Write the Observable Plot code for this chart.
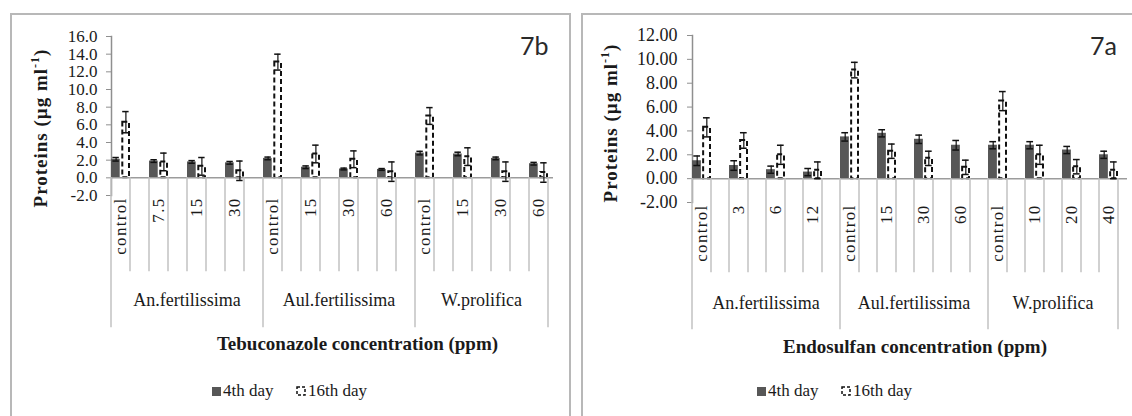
<!DOCTYPE html>
<html><head><meta charset="utf-8">
<script src="https://cdn.jsdelivr.net/npm/d3@7"></script>
<script src="https://cdn.jsdelivr.net/npm/@observablehq/plot@0.6"></script>
<style>
body{margin:0;background:#fff;width:1132px;height:416px;overflow:hidden;position:relative;}
.box{position:absolute;border:2px solid #b8b8b8;box-sizing:border-box;}
.panel{position:absolute;top:0;}
svg text{font-family:"Liberation Serif","Times New Roman",serif;}
svg text.tag{font-family:Lato,"Open Sans",sans-serif;}
</style></head><body>
<div class="box" style="left:10px;top:13px;width:561px;height:440px"></div>
<div class="box" style="left:581px;top:13px;width:600px;height:440px"></div>
<div id="left" class="panel" style="left:0px"></div>
<div id="right" class="panel" style="left:566px"></div>
<script>
// ---- data ----
const groups = ["An.fertilissima", "Aul.fertilissima", "W.prolifica"];
const days = ["4th day", "16th day"];

// 7b: Tebuconazole
const tebConc = [["control", "7.5", "15", "30"], ["control", "15", "30", "60"], ["control", "15", "30", "60"]];
const tebDay4 = [2.1, 1.9, 1.8, 1.7, 2.2, 1.2, 1.0, 0.95, 2.8, 2.7, 2.2, 1.6];
const tebDay4Err = [0.2, 0.15, 0.15, 0.15, 0.15, 0.15, 0.1, 0.1, 0.2, 0.2, 0.15, 0.15];
const tebDay16 = [6.3, 1.8, 1.3, 0.8, 13.1, 2.7, 2.1, 0.7, 7.0, 2.4, 0.7, 0.6];
const tebDay16Err = [1.2, 1.0, 1.0, 1.1, 0.9, 1.0, 0.95, 1.1, 0.95, 1.0, 1.1, 1.1];
const tebTicks = [-2, 0, 2, 4, 6, 8, 10, 12, 14, 16];

// 7a: Endosulfan
const endConc = [["control", "3", "6", "12"], ["control", "15", "30", "60"], ["control", "10", "20", "40"]];
const endDay4 = [1.5, 1.1, 0.75, 0.55, 3.5, 3.8, 3.3, 2.8, 2.8, 2.8, 2.4, 2.0];
const endDay4Err = [0.4, 0.4, 0.3, 0.3, 0.35, 0.3, 0.35, 0.4, 0.3, 0.3, 0.3, 0.3];
const endDay16 = [4.3, 3.2, 2.0, 0.7, 9.1, 2.3, 1.7, 0.95, 6.5, 2.0, 1.0, 0.7];
const endDay16Err = [0.8, 0.65, 0.8, 0.7, 0.65, 0.6, 0.6, 0.6, 0.8, 0.8, 0.6, 0.7];
const endTicks = [-2, 0, 2, 4, 6, 8, 10, 12];

function panel(o) {
  const rows4 = [], rows16 = [];
  groups.forEach((g, gi) => o.conc[gi].forEach((c, ci) => {
    const i = gi * 4 + ci, key = g + "|" + c;
    rows4.push({key, group: g, v: o.d4[i], e: o.e4[i]});
    rows16.push({key, group: g, v: o.d16[i], e: o.e16[i]});
  }));
  const keys = rows4.map(d => d.key);
  const pI = 0.49;
  const W = o.width - o.mL - o.mR;
  const step = W / (keys.length - pI);
  const bw = step * (1 - pI);
  const half = bw / 2;
  const cap = 7;
  const capInset = (bw - cap) / 2;
  const errMarks = (rows, dx) => [
    Plot.ruleX(rows, {x: "key", y1: d => d.v - d.e, y2: d => d.v + d.e, dx, stroke: "#111", strokeWidth: 1.2}),
    Plot.tickY(rows, {x: "key", y: d => d.v + d.e, dx, insetLeft: capInset, insetRight: capInset, stroke: "#111", strokeWidth: 1.5}),
    Plot.tickY(rows, {x: "key", y: d => d.v - d.e, dx, insetLeft: capInset, insetRight: capInset, stroke: "#111", strokeWidth: 1.5})
  ];
  const chart = Plot.plot({
    width: o.width, height: 416,
    marginLeft: o.mL, marginRight: o.mR, marginTop: o.mT, marginBottom: o.mB,
    style: {background: "transparent", overflow: "visible", color: "#1a1a1a"},
    x: {domain: keys, paddingInner: pI, paddingOuter: 0, align: 0},
    y: {domain: o.yDomain},
    marks: [
      Plot.frame({anchor: "left", stroke: "#8f8f8f", strokeWidth: 1.5}),
      Plot.axisY({ticks: o.ticks, tickFormat: o.fmt, tickSize: 5, tickPadding: o.tickPad, stroke: "#8f8f8f", fill: "#1a1a1a", label: null, fontSize: o.fs}),
      Plot.axisX({tickRotate: -90, tickSize: 0, tickPadding: 2, tickFormat: d => d.split("|")[1], label: null, fontSize: 17, fill: "#1a1a1a"}),
      Plot.barY(rows4, {x: "key", y: "v", fill: "#575757", insetRight: half + 0.5}),
      Plot.barY(rows16, {x: "key", y: "v", fill: "white", stroke: "#111", strokeWidth: 2, strokeDasharray: "5,3", insetLeft: half + 1.5, insetRight: 1}),
      Plot.ruleY([0], {stroke: "#9c9c9c", strokeWidth: 1.5}),
      ...errMarks(rows4, -half / 2),
      ...errMarks(rows16, half / 2)
    ]
  });
  const svg = d3.select(chart);
  svg.selectAll("g[aria-label='x-axis tick label'] text").style("letter-spacing", "1.3px");
  const x = chart.scale("x"), y = chart.scale("y");
  const y0 = y.apply(0);
  const deco = svg.append("g").attr("stroke", "#c2c2c2").attr("stroke-width", 1.5);
  const firsts = groups.map(g => keys.find(k => k.startsWith(g + "|")));
  keys.forEach((k, i) => {
    const a = x.apply(k), b = a + x.bandwidth;
    const longA = firsts.includes(k), longB = i === keys.length - 1;
    deco.append("line").attr("x1", a).attr("x2", a).attr("y1", y0).attr("y2", y0 + (longA ? o.longLen : o.shortLen));
    deco.append("line").attr("x1", b).attr("x2", b).attr("y1", y0).attr("y2", y0 + (longB ? o.longLen : o.shortLen));
  });
  const lastEnd = x.apply(keys[keys.length - 1]) + x.bandwidth;
  groups.forEach((g, gi) => {
    const s = x.apply(firsts[gi]);
    const e = gi < groups.length - 1 ? x.apply(firsts[gi + 1]) : lastEnd;
    svg.append("text").attr("x", (s + e) / 2).attr("y", y0 + o.groupDy).attr("text-anchor", "middle")
      .attr("dominant-baseline", "middle").attr("font-size", 18).attr("fill", "#1a1a1a").text(g);
  });
  const x0 = x.apply(keys[0]);
  svg.append("text").attr("x", (x0 + lastEnd) / 2 + o.titleDx).attr("y", y0 + o.titleDy).attr("text-anchor", "middle")
    .attr("dominant-baseline", "middle").attr("font-weight", "bold").attr("font-size", 19)
    .attr("fill", "#1a1a1a").text(o.title);
  const yt = svg.append("text").attr("transform", `translate(${o.yTitleX},${o.yTitleY}) rotate(-90)`)
    .attr("text-anchor", "middle").attr("dominant-baseline", "middle")
    .attr("font-weight", "bold").attr("font-size", 19).attr("fill", "#1a1a1a").style("letter-spacing", "1px");
  yt.append("tspan").text("Proteins (µg ml");
  yt.append("tspan").attr("font-size", 12).attr("dy", -7).text("-1");
  yt.append("tspan").attr("dy", 7).text(")");
  svg.append("text").attr("class", "tag").attr("x", o.tagX).attr("y", 55).attr("text-anchor", "start")
    .attr("font-size", 25).attr("fill", "#2a2a2a").text(o.tag);
  // legend
  const lg = svg.append("g").attr("transform", `translate(${o.legX},392)`).attr("font-size", 17).attr("fill", "#1a1a1a").attr("text-anchor", "start");
  lg.append("rect").attr("x", 0).attr("y", -5).attr("width", 9).attr("height", 9).attr("fill", "#575757");
  lg.append("text").attr("x", 11).attr("y", 0).attr("dominant-baseline", "middle").text(days[0]);
  lg.append("rect").attr("x", 85).attr("y", -5).attr("width", 8).attr("height", 8).attr("fill", "white")
    .attr("stroke", "#111").attr("stroke-width", 1.5).attr("stroke-dasharray", "3,2");
  lg.append("text").attr("x", 96).attr("y", 0).attr("dominant-baseline", "middle").text(days[1]);
  return chart;
}

document.getElementById("left").append(panel({
  conc: tebConc, d4: tebDay4, e4: tebDay4Err, d16: tebDay16, e16: tebDay16Err,
  ticks: tebTicks, fmt: d => d.toFixed(1), yDomain: [-2, 16], fs: 17, tickPad: 9,
  width: 566, mL: 111, mR: 13, mT: 36, mB: 221,
  shortLen: 94, longLen: 150, groupDy: 125, titleDy: 168, titleDx: 28,
  title: "Tebuconazole concentration (ppm)", yTitleX: 43, yTitleY: 128,
  tag: "7b", tagX: 520, legX: 212
}));
document.getElementById("right").append(panel({
  conc: endConc, d4: endDay4, e4: endDay4Err, d16: endDay16, e16: endDay16Err,
  ticks: endTicks, fmt: d => d.toFixed(2), yDomain: [-2, 12], fs: 18, tickPad: 10,
  width: 566, mL: 126, mR: 5, mT: 35, mB: 214,
  shortLen: 94, longLen: 151, groupDy: 127, titleDy: 170, titleDx: 10,
  title: "Endosulfan concentration (ppm)", yTitleX: 47, yTitleY: 123,
  tag: "7a", tagX: 524, legX: 191
}));
</script>
</body></html>
